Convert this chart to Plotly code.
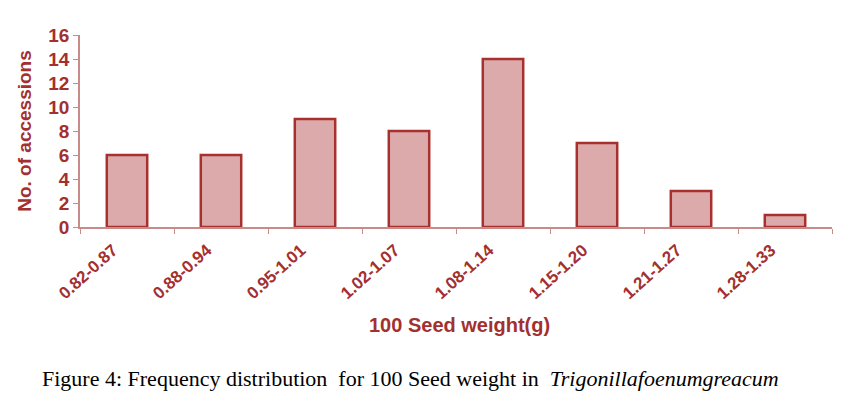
import plotly.graph_objects as go

weight_classes = ['0.82-0.87', '0.88-0.94', '0.95-1.01', '1.02-1.07',
                  '1.08-1.14', '1.15-1.20', '1.21-1.27', '1.28-1.33']
accessions = [6, 6, 9, 8, 14, 7, 3, 1]
y_ticks = [0, 2, 4, 6, 8, 10, 12, 14, 16]

red = '#a3302f'
axis_col = '#c98a8a'

fig = go.Figure(go.Bar(
    x=weight_classes,
    y=accessions,
    width=0.43,
    marker_color='#dcaaaa',
    marker_line_color='#a8302e',
    marker_line_width=2.5,
))

# the page has an 8px body margin, so margins are trimmed by 8
fig.update_layout(
    width=849, height=418,
    margin=dict(l=72, r=25, t=27, b=199),
    paper_bgcolor='white', plot_bgcolor='white',
    showlegend=False,
    font=dict(family='Liberation Sans', color=red),
)
fig.update_xaxes(
    tickson='boundaries', ticks='outside', ticklen=5, tickcolor=axis_col,
    showline=True, linecolor=axis_col, linewidth=1.5,
    tickangle=-42, tickfont=dict(size=17, family='Liberation Sans', color=red),
    ticklabelshift=-14, ticklabelstandoff=5,
    showgrid=False,
    tickvals=weight_classes, ticktext=['<b>%s</b>' % c for c in weight_classes],
)
fig.update_yaxes(
    range=[0, 16], tickvals=y_ticks, ticktext=['<b>%d</b>' % v for v in y_ticks],
    ticks='outside', ticklen=5, tickcolor=axis_col,
    showline=True, linecolor=axis_col, linewidth=1.5, showgrid=False, zeroline=False,
    tickfont=dict(size=19, family='Liberation Sans', color=red),
    title=dict(text='<b>No. of accessions</b>', font=dict(size=19, color=red), standoff=12),
)

fig.add_annotation(text='<b>100 Seed weight(g)</b>', xref='paper', yref='paper',
                   x=(459 - 80) / 752, y=(227 - 325) / 192, xanchor='center', yanchor='middle',
                   showarrow=False, font=dict(size=20, color=red, family='Liberation Sans'))
fig.add_annotation(text='Figure 4: Frequency distribution  for 100 Seed weight in  <i>Trigonillafoenumgreacum</i>',
                   xref='paper', yref='paper', x=(410 - 80) / 752, y=(227 - 378) / 192,
                   xanchor='center', yanchor='middle',
                   showarrow=False, font=dict(size=22, color='black', family='Liberation Serif'))

fig.write_html('out.html')
